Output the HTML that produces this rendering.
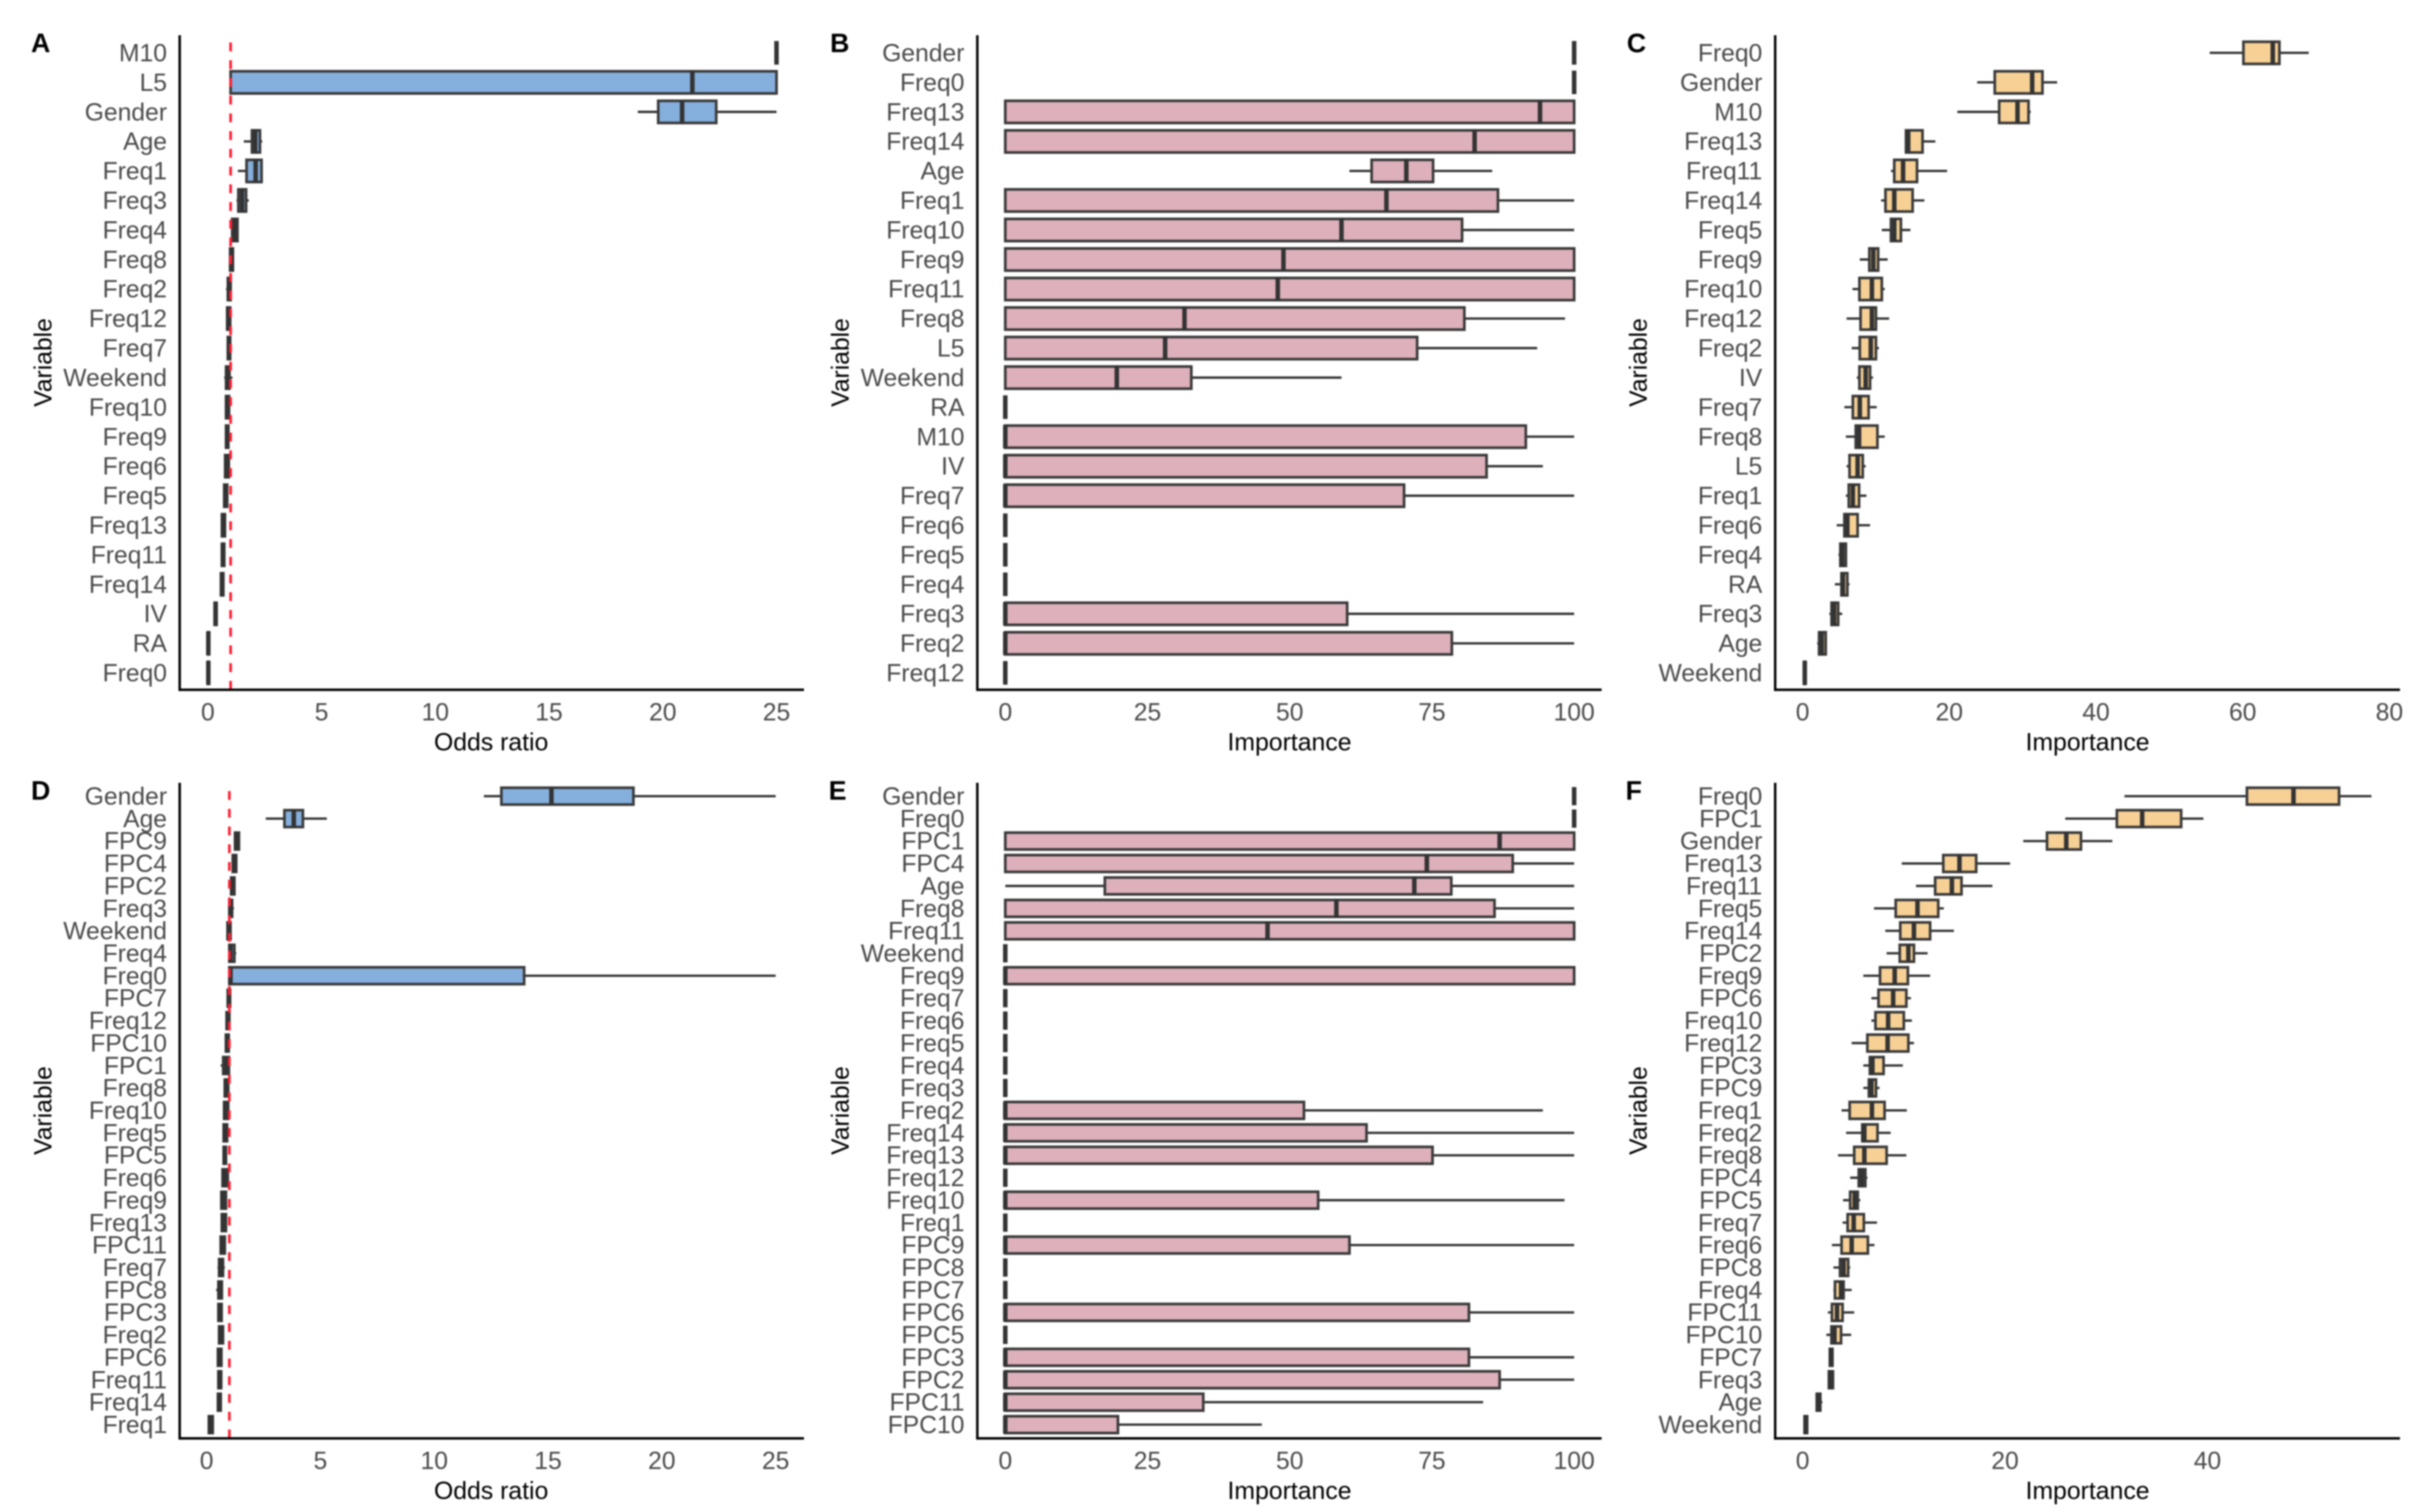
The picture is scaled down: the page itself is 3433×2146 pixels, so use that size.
<!DOCTYPE html>
<html lang="en">
<head>
<meta charset="utf-8">
<title>Variable importance and odds ratio box plots</title>
<style>
html,body{margin:0;padding:0;background:#fff;width:3433px;height:2146px;overflow:hidden}
svg{display:block;filter:blur(1px)}
text{font-family:"Liberation Sans",sans-serif}
</style>
</head>
<body>
<svg id="figure" xmlns="http://www.w3.org/2000/svg" width="3433" height="2146" viewBox="0 0 3433 2146">
<rect x="0" y="0" width="3433" height="2146" fill="#ffffff"/>
</svg>
<script>
// Panel A
const panelACategories = ["M10","L5","Gender","Age","Freq1","Freq3","Freq4","Freq8","Freq2","Freq12","Freq7","Weekend","Freq10","Freq9","Freq6","Freq5","Freq13","Freq11","Freq14","IV","RA","Freq0"];
const panelAMin =    [25,1,18.9,1.58,1.32,1.26,1.07,.98,.8,.82,.88,.72,.75,.8,.72,.7,.62,.62,.58,.3,0,0];
const panelAQ1 =     [25,1,19.8,1.94,1.7,1.34,1.07,.98,.88,.85,.88,.8,.8,.8,.76,.72,.62,.62,.58,.3,0,0];
const panelAMedian = [25,21.3,20.85,2.08,2.1,1.5,1.2,1.04,.94,.92,.92,.88,.85,.85,.85,.77,.68,.66,.62,.34,.02,.02];
const panelAQ3 =     [25,25,22.35,2.29,2.36,1.68,1.3,1.1,1,.98,.98,.95,.93,.9,.92,.85,.75,.72,.68,.38,.05,.05];
const panelAMax =    [25,25,25,2.39,2.37,1.8,1.3,1.1,1.02,1,.98,1.08,.98,.92,.97,.88,.75,.72,.68,.38,.05,.05];
const panelATicks = [0,5,10,15,20,25];

// Panel B
const panelBCategories = ["Gender","Freq0","Freq13","Freq14","Age","Freq1","Freq10","Freq9","Freq11","Freq8","L5","Weekend","RA","M10","IV","Freq7","Freq6","Freq5","Freq4","Freq3","Freq2","Freq12"];
const panelBMin =    [100,100,0,0,60.5,0,0,0,0,0,0,0,0,0,0,0,0,0,0,0,0,0];
const panelBQ1 =     [100,100,0,0,64.4,0,0,0,0,0,0,0,0,0,0,0,0,0,0,0,0,0];
const panelBMedian = [100,100,94,82.5,70.5,67,59.1,48.9,47.9,31.5,28.1,19.6,0,0,0,0,0,0,0,0,0,0];
const panelBQ3 =     [100,100,100,100,75.2,86.6,80.3,100,100,80.7,72.4,32.7,0,91.5,84.6,70.1,0,0,0,60.1,78.5,0];
const panelBMax =    [100,100,100,100,85.6,100,100,100,100,98.4,93.5,59.1,0,100,94.5,100,0,0,0,100,100,0];
const panelBTicks = [0,25,50,75,100];

// Panel C
const panelCCategories = ["Freq0","Gender","M10","Freq13","Freq11","Freq14","Freq5","Freq9","Freq10","Freq12","Freq2","IV","Freq7","Freq8","L5","Freq1","Freq6","Freq4","RA","Freq3","Age","Weekend"];
const panelCMin =    [55.5,23.8,21.1,14.1,12.05,10.7,10.8,7.8,6.8,6,6.7,7.4,5.7,5.9,6,5.9,4.65,4.9,4.4,3.65,2,.2];
const panelCQ1 =     [60.1,26.2,26.8,14.1,12.5,11.3,12.05,9.1,7.75,7.9,7.8,7.75,6.85,7.25,6.4,6.3,5.7,5.15,5.3,3.95,2.25,.2];
const panelCMedian = [64.1,31.3,29.3,14.4,13.7,12.5,12.5,9.65,9.45,9.45,9.3,8.6,7.8,7.7,7.5,6.85,6.1,5.4,5.5,4.3,2.6,.3];
const panelCQ3 =     [65,32.7,30.8,16.35,15.6,15,13.4,10.3,10.8,10,10,9.2,9,10.2,8.2,7.7,7.5,5.9,6.1,4.85,3.15,.4];
const panelCMax =    [69,34.7,31.1,18.1,19.7,16.6,14.7,11.6,11.2,11.8,10.4,9.6,10.1,11.2,8.6,8.7,9.2,6,6.4,5.4,3.25,.4];
const panelCTicks = [0,20,40,60,80];

// Panel D
const panelDCategories = ["Gender","Age","FPC9","FPC4","FPC2","Freq3","Weekend","Freq4","Freq0","FPC7","Freq12","FPC10","FPC1","Freq8","Freq10","Freq5","FPC5","Freq6","Freq9","Freq13","FPC11","Freq7","FPC8","FPC3","Freq2","FPC6","Freq11","Freq14","Freq1"];
const panelDMin =    [12.18,2.6,1.25,1.15,1.08,.97,.92,.97,1,.93,.88,.85,.62,.8,.77,.72,.72,.7,.62,.67,.6,.48,.42,.52,.55,.5,.52,.5,.1];
const panelDQ1 =     [12.95,3.42,1.25,1.15,1.08,1,.92,1,1,.93,.88,.85,.73,.8,.77,.75,.75,.7,.65,.67,.62,.55,.52,.52,.55,.5,.52,.5,.1];
const panelDMedian = [15.15,3.83,1.33,1.24,1.15,1.05,.98,1.05,1.05,.98,.93,.9,.85,.85,.83,.82,.8,.8,.72,.74,.7,.63,.58,.58,.63,.56,.57,.55,.17];
const panelDQ3 =     [18.75,4.23,1.42,1.3,1.22,1.12,1.05,1.22,13.95,1.03,1,.97,.98,.95,.95,.9,.85,.93,.85,.85,.8,.72,.67,.66,.72,.65,.64,.62,.27];
const panelDMax =    [25,5.28,1.42,1.3,1.22,1.2,1.05,1.3,25,1.03,1,.97,1,.95,.97,.95,.87,.95,.87,.85,.82,.8,.7,.66,.72,.65,.64,.62,.27];
const panelDTicks = [0,5,10,15,20,25];

// Panel E
const panelECategories = ["Gender","Freq0","FPC1","FPC4","Age","Freq8","Freq11","Weekend","Freq9","Freq7","Freq6","Freq5","Freq4","Freq3","Freq2","Freq14","Freq13","Freq12","Freq10","Freq1","FPC9","FPC8","FPC7","FPC6","FPC5","FPC3","FPC2","FPC11","FPC10"];
const panelEMin =    [100,100,0,0,0,0,0,0,0,0,0,0,0,0,0,0,0,0,0,0,0,0,0,0,0,0,0,0,0];
const panelEQ1 =     [100,100,0,0,17.5,0,0,0,0,0,0,0,0,0,0,0,0,0,0,0,0,0,0,0,0,0,0,0,0];
const panelEMedian = [100,100,86.9,74.1,71.9,58.2,46.1,0,0,0,0,0,0,0,0,0,0,0,0,0,0,0,0,0,0,0,0,0,0];
const panelEQ3 =     [100,100,100,89.2,78.4,86,100,0,100,0,0,0,0,0,52.5,63.5,75.1,0,55,0,60.5,0,0,81.5,0,81.5,86.9,34.8,19.8];
const panelEMax =    [100,100,100,100,100,100,100,0,100,0,0,0,0,0,94.5,100,100,0,98.3,0,100,0,0,100,0,100,100,84,45.1];
const panelETicks = [0,25,50,75,100];

// Panel F
const panelFCategories = ["Freq0","FPC1","Gender","Freq13","Freq11","Freq5","Freq14","FPC2","Freq9","FPC6","Freq10","Freq12","FPC3","FPC9","Freq1","Freq2","Freq8","FPC4","FPC5","Freq7","Freq6","FPC8","Freq4","FPC11","FPC10","FPC7","Freq3","Age","Weekend"];
const panelFMin =    [31.8,25.95,21.8,9.8,11.2,7.05,8.17,8.3,6,6.8,6.8,4.85,6,6,3.85,4.3,3.5,4.7,4,3.95,2.9,3.05,3.05,2.5,2.35,2.6,2.55,1.35,.2];
const panelFQ1 =     [43.9,31.05,24.15,13.9,13.1,9.2,9.65,9.6,7.65,7.5,7.2,6.4,6.65,6.55,4.65,5.9,5.1,5.55,4.7,4.45,3.85,3.7,3.2,2.9,2.85,2.7,2.6,1.4,.2];
const panelFMedian = [48.5,33.55,26.05,15.5,14.75,11.35,11,10.45,9.1,8.95,8.45,8.4,6.9,6.8,6.85,6.1,6.1,5.85,5.15,5.05,4.85,4.05,3.8,3.4,3.15,2.8,2.75,1.6,.3];
const panelFQ3 =     [53,37.4,27.5,17.15,15.7,13.4,12.6,11,10.4,10.25,10,10.45,8,7.25,8.1,7.4,8.3,6.2,5.45,6.05,6.45,4.5,4.05,3.95,3.8,2.95,3,1.75,.45];
const panelFMax =    [56.2,39.6,30.6,20.5,18.75,13.95,14.95,12.35,12.6,10.7,10.8,11,9.9,7.6,10.3,8.7,10.25,6.4,5.7,7.35,7.1,4.7,4.85,5.1,4.8,3.05,3.05,1.95,.45];
const panelFTicks = [0,20,40];

const oddsReference = 1;
const SVG_NS = "http://www.w3.org/2000/svg";
const figure = document.getElementById("figure");

function makeScaleX(zeroPx, domainEnd, endPx) {
  return function (v) { return zeroPx + v * (endPx - zeroPx) / domainEnd; };
}
function makeScaleY(firstPx, lastPx, count) {
  return function (i) { return firstPx + i * (lastPx - firstPx) / (count - 1); };
}
function shape(parent, tag, attrs) {
  const el = document.createElementNS(SVG_NS, tag);
  for (const k in attrs) el.setAttribute(k, attrs[k]);
  parent.appendChild(el);
  return el;
}

function drawPanel(cfg) {
  const g = shape(figure, "g", {});
  
  

  const n = cfg.categories.length;
  const sx = makeScaleX(cfg.zeroPx, cfg.domainEnd, cfg.endPx);
  const sy = makeScaleY(cfg.firstRowPx, cfg.lastRowPx, n);
  const band = (cfg.lastRowPx - cfg.firstRowPx) / (n - 1);
  const boxH = band * 0.75;

  const tag = shape(g, "text", {x: cfg.letterX, y: cfg.letterY, "font-size": 38, "font-weight": "bold", fill: "#000"});
  tag.textContent = cfg.letter;
  
  

  cfg.categories.forEach(function (cat, i) {
    const y = sy(i);
    const label = shape(g, "text", {x: cfg.labelRight, y: y + 12, "text-anchor": "end", "font-size": 35, fill: "#4a4a4a"});
    label.textContent = cat;
    
    

    const row = shape(g, "g", {});
    
    

    const whisker = shape(row, "line", {x1: sx(cfg.min[i]), x2: sx(cfg.max[i]), y1: y, y2: y, stroke: "#333", "stroke-width": 3.3});
    
    

    const box = shape(row, "rect", {x: sx(cfg.q1[i]), y: y - boxH / 2, width: Math.max(0, sx(cfg.q3[i]) - sx(cfg.q1[i])), height: boxH, fill: cfg.fill, stroke: "#3a3a3a", "stroke-width": 3.8});
    
    

    const median = shape(row, "line", {x1: sx(cfg.median[i]), x2: sx(cfg.median[i]), y1: y - boxH / 2 - 1, y2: y + boxH / 2 + 1, stroke: "#333", "stroke-width": 6.4});
    
    
  });

  if (cfg.showReference) {
    const ref = shape(g, "line", {x1: sx(oddsReference), x2: sx(oddsReference), y1: cfg.axisBottom, y2: cfg.axisTop, stroke: "#ff1f33", "stroke-width": 3.8, "stroke-dasharray": "12.6 12.57"});
    
    
  }

  const yAxis = shape(g, "line", {x1: cfg.axisLeft, x2: cfg.axisLeft, y1: cfg.axisTop, y2: cfg.axisBottom + 1.75, stroke: "#000", "stroke-width": 3.5});
  
  

  const xAxis = shape(g, "line", {x1: cfg.axisLeft, x2: cfg.axisRight, y1: cfg.axisBottom, y2: cfg.axisBottom, stroke: "#000", "stroke-width": 3.5});
  
  

  cfg.ticks.forEach(function (t) {
    const tick = shape(g, "text", {x: sx(t), y: cfg.axisBottom + 43.5, "text-anchor": "middle", "font-size": 35, fill: "#4a4a4a"});
    tick.textContent = String(t);
    
    
  });

  const xTitle = shape(g, "text", {x: cfg.titleX, y: cfg.axisBottom + 86, "text-anchor": "middle", "font-size": 35.2, fill: "#000"});
  xTitle.textContent = cfg.xTitle;
  
  

  const midY = (cfg.axisTop + cfg.axisBottom) / 2;
  const yTitle = shape(g, "text", {x: 0, y: 0, "text-anchor": "middle", "font-size": 35, fill: "#000", transform: "translate(" + cfg.yTitleX + " " + midY + ") rotate(-90)"});
  yTitle.textContent = "Variable";
  
  
}

const blue = "#85afdd", pink = "#ddb0bb", orange = "#f6d095";

drawPanel({letter: "A", letterX: 44, letterY: 74, categories: panelACategories, min: panelAMin, q1: panelAQ1, median: panelAMedian, q3: panelAQ3, max: panelAMax, ticks: panelATicks, fill: blue, xTitle: "Odds ratio", showReference: true,
  zeroPx: 295, domainEnd: 25, endPx: 1102, firstRowPx: 75, lastRowPx: 955, axisLeft: 255, axisRight: 1141, axisTop: 50, axisBottom: 979, labelRight: 237, titleX: 697, yTitleX: 73});
drawPanel({letter: "B", letterX: 1178, letterY: 74, categories: panelBCategories, min: panelBMin, q1: panelBQ1, median: panelBMedian, q3: panelBQ3, max: panelBMax, ticks: panelBTicks, fill: pink, xTitle: "Importance", showReference: false,
  zeroPx: 1426.7, domainEnd: 100, endPx: 2234, firstRowPx: 75, lastRowPx: 955, axisLeft: 1387, axisRight: 2273, axisTop: 50, axisBottom: 979, labelRight: 1368.7, titleX: 1830, yTitleX: 1204.5});
drawPanel({letter: "C", letterX: 2308.7, letterY: 74, categories: panelCCategories, min: panelCMin, q1: panelCQ1, median: panelCMedian, q3: panelCQ3, max: panelCMax, ticks: panelCTicks, fill: orange, xTitle: "Importance", showReference: false,
  zeroPx: 2558.2, domainEnd: 80, endPx: 3391, firstRowPx: 75, lastRowPx: 955, axisLeft: 2519.3, axisRight: 3406, axisTop: 50, axisBottom: 979, labelRight: 2501, titleX: 2962.6, yTitleX: 2337});
drawPanel({letter: "D", letterX: 44, letterY: 1135, categories: panelDCategories, min: panelDMin, q1: panelDQ1, median: panelDMedian, q3: panelDQ3, max: panelDMax, ticks: panelDTicks, fill: blue, xTitle: "Odds ratio", showReference: true,
  zeroPx: 293.2, domainEnd: 25, endPx: 1100.8, firstRowPx: 1130, lastRowPx: 2022, axisLeft: 255, axisRight: 1141, axisTop: 1111, axisBottom: 2041.5, labelRight: 237, titleX: 697, yTitleX: 73});
drawPanel({letter: "E", letterX: 1176, letterY: 1135, categories: panelECategories, min: panelEMin, q1: panelEQ1, median: panelEMedian, q3: panelEQ3, max: panelEMax, ticks: panelETicks, fill: pink, xTitle: "Importance", showReference: false,
  zeroPx: 1426.7, domainEnd: 100, endPx: 2234, firstRowPx: 1130, lastRowPx: 2022, axisLeft: 1387, axisRight: 2273, axisTop: 1111, axisBottom: 2041.5, labelRight: 1368.7, titleX: 1830, yTitleX: 1204.5});
drawPanel({letter: "F", letterX: 2307, letterY: 1135, categories: panelFCategories, min: panelFMin, q1: panelFQ1, median: panelFMedian, q3: panelFQ3, max: panelFMax, ticks: panelFTicks, fill: orange, xTitle: "Importance", showReference: false,
  zeroPx: 2558.2, domainEnd: 40, endPx: 3132.8, firstRowPx: 1130, lastRowPx: 2022, axisLeft: 2519.3, axisRight: 3406, axisTop: 1111, axisBottom: 2041.5, labelRight: 2501, titleX: 2962.6, yTitleX: 2337});
</script>
</body>
</html>
